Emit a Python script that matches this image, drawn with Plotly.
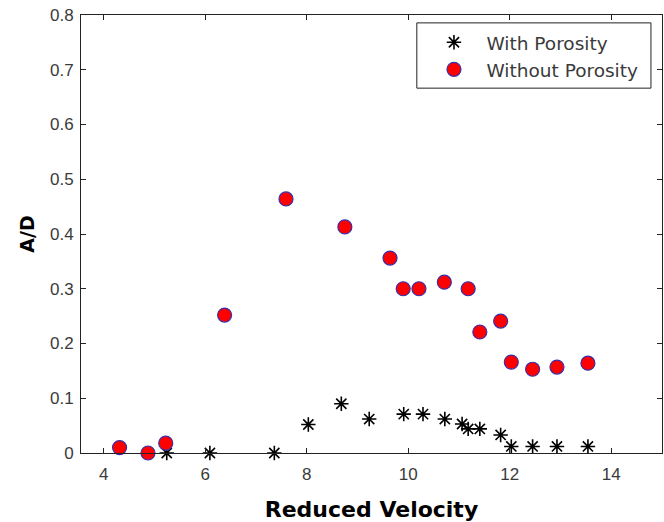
import plotly.graph_objects as go

# With Porosity (asterisks)
with_x = [5.24, 6.09, 7.36, 8.03, 8.68, 9.23, 9.91, 10.29, 10.72, 11.06, 11.18, 11.41, 11.82, 12.03, 12.45, 12.93, 13.54]
with_y = [0.0, 0.0, 0.0, 0.052, 0.090, 0.062, 0.071, 0.071, 0.062, 0.053, 0.044, 0.044, 0.033, 0.012, 0.012, 0.012, 0.012]

# Without Porosity (red circles)
without_x = [4.31, 4.87, 5.22, 6.38, 7.59, 8.75, 9.64, 9.90, 10.21, 10.71, 11.18, 11.41, 11.82, 12.03, 12.45, 12.93, 13.54]
without_y = [0.010, 0.0, 0.018, 0.252, 0.464, 0.413, 0.356, 0.300, 0.300, 0.312, 0.300, 0.221, 0.241, 0.166, 0.153, 0.157, 0.164]

x_ticks = [4, 6, 8, 10, 12, 14]
y_ticks = [0, 0.1, 0.2, 0.3, 0.4, 0.5, 0.6, 0.7, 0.8]
y_tick_text = ["0", "0.1", "0.2", "0.3", "0.4", "0.5", "0.6", "0.7", "0.8"]

fig = go.Figure()
fig.add_trace(go.Scatter(
    x=with_x, y=with_y, mode="markers", name="With Porosity", legendgroup="a",
    marker=dict(symbol="asterisk-open", size=12, color="black",
                line=dict(color="black", width=1.6)),
    cliponaxis=False,
))
fig.add_trace(go.Scatter(
    x=without_x, y=without_y, mode="markers", name="Without Porosity", legendgroup="b",
    marker=dict(symbol="circle", size=14, color="#ff0000",
                line=dict(color="#3a2fa8", width=1.2)),
    cliponaxis=False,
))

axis_common = dict(
    showline=True, linecolor="#222", linewidth=1, mirror="ticks",
    ticks="inside", ticklen=5, tickcolor="#222", showgrid=False, zeroline=False,
    automargin=False,
    tickfont=dict(family="Liberation Sans, Arial", size=17, color="#3a3a3a"),
)

# legend frame (paper coordinates)
fig.add_shape(type="rect", xref="paper", yref="paper",
              x0=0.578, x1=0.981, y0=0.833, y1=0.982,
              line=dict(color="#222", width=1), fillcolor="white", layer="below")

fig.update_layout(
    width=664, height=522,
    margin=dict(l=81, r=2, t=15, b=69, autoexpand=False),
    paper_bgcolor="white", plot_bgcolor="white",
    showlegend=True,
    legend=dict(
        x=0.586, y=0.980, xanchor="left", yanchor="top",
        bgcolor="rgba(0,0,0,0)", borderwidth=0,
        font=dict(family="DejaVu Sans", size=18.5, color="#3a3a3a"),
        itemwidth=55, tracegroupgap=0, traceorder="grouped",
    ),
    xaxis=dict(range=[3.55, 15], tickvals=x_ticks, ticktext=[str(v) for v in x_ticks],
               title=dict(text="Reduced Velocity", standoff=22,
                          font=dict(family="DejaVu Sans", size=22, color="black", weight="bold")),
               ticklabelstandoff=6,
               **axis_common),
    yaxis=dict(range=[0, 0.8], tickvals=y_ticks, ticktext=y_tick_text,
               title=dict(text="A/D", standoff=10,
                          font=dict(family="DejaVu Sans", size=19, color="black", weight="bold")),
               ticklabelstandoff=3,
               **axis_common),
)

fig.write_html("out.html")
